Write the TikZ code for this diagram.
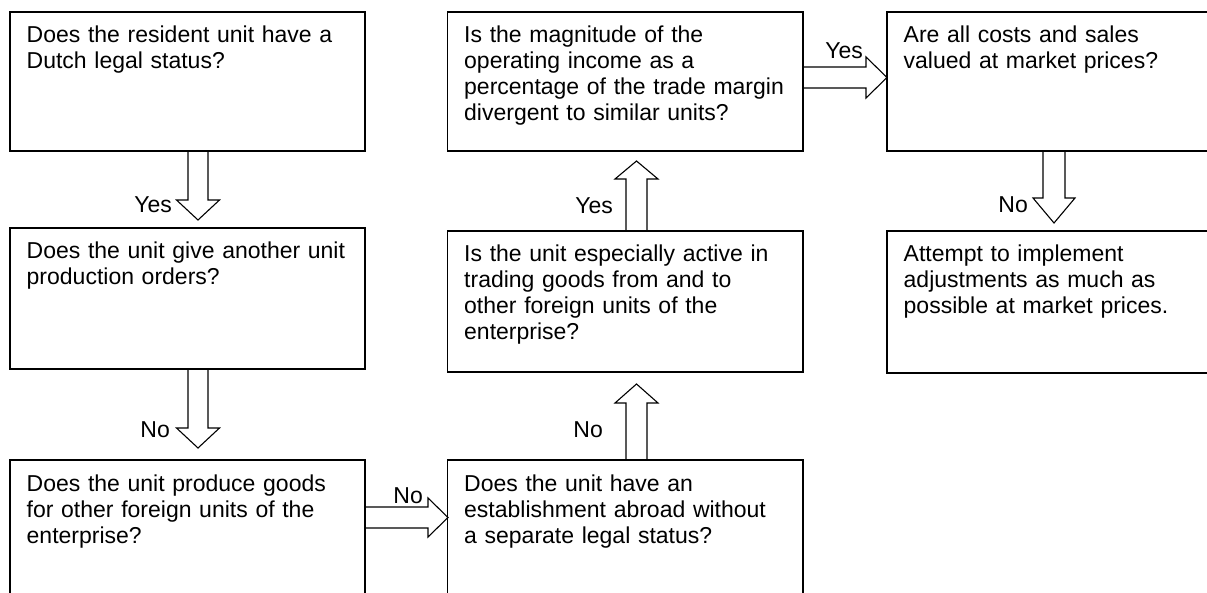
\documentclass[tikz,border=0pt]{standalone}
\usepackage{fontspec}
\setmainfont{Liberation Sans}
\usetikzlibrary{calc}
\begin{document}
\begin{tikzpicture}[x=1pt,y=-1pt,
  box/.style={draw, line width=1.1pt, rectangle, anchor=north west, inner sep=0pt, outer sep=0pt},
  txt/.style={anchor=base west, align=left, text width=380pt, inner sep=0pt, font=\fontsize{23}{26}\selectfont},
  blk/.style={draw, line width=1.1pt, line join=miter},
  lbl/.style={anchor=base east, inner sep=0pt, font=\fontsize{23}{26}\selectfont}]
\useasboundingbox (0,0) rectangle (1207,593);
\clip (0,0) rectangle (1207,593);
% boxes
\node[box, minimum width=355pt, minimum height=139pt] (b1) at (10,12) {};
\node[box, minimum width=355pt, minimum height=141pt] (b2) at (10,228) {};
\node[box, minimum width=355pt, minimum height=200pt] (b3) at (10,460) {};
\node[box, minimum width=355.5pt, minimum height=200pt] (b4) at (447.5,460) {};
\node[box, minimum width=355.5pt, minimum height=141pt] (b5) at (447.5,231) {};
\node[box, minimum width=355.5pt, minimum height=139pt] (b6) at (447.5,12) {};
\node[box, minimum width=400pt, minimum height=139pt] (b7) at (887,12) {};
\node[box, minimum width=400pt, minimum height=142pt] (b8) at (887,231) {};
% texts
\node[txt] (t1) at ($(b1.north west)+(16.5,31)$) {Does the resident unit have a\\Dutch legal status?};
\node[txt] (t2) at ($(b2.north west)+(16.5,31)$) {Does the unit give another unit\\production orders?};
\node[txt] (t3) at ($(b3.north west)+(16.5,31)$) {Does the unit produce goods\\for other foreign units of the\\enterprise?};
\node[txt] (t4) at ($(b4.north west)+(16.5,31)$) {Does the unit have an\\establishment abroad without\\a separate legal status?};
\node[txt] (t5) at ($(b5.north west)+(16.5,31)$) {Is the unit especially active in\\trading goods from and to\\other foreign units of the\\enterprise?};
\node[txt] (t6) at ($(b6.north west)+(16.5,31)$) {Is the magnitude of the\\operating income as a\\percentage of the trade margin\\divergent to similar units?};
\node[txt] (t7) at ($(b7.north west)+(16.5,31)$) {Are all costs and sales\\valued at market prices?};
\node[txt] (t8) at ($(b8.north west)+(16.5,31)$) {Attempt to implement\\adjustments as much as\\possible at market prices.};
% block arrows
\draw[blk] ($(b1.south west)+(178,0)$) -- ++(0,49) -- ++(-11.5,0) -- ++(21.5,20) -- ++(21.5,-20) -- ++(-11.5,0) -- ++(0,-49);
\draw[blk] ($(b2.south west)+(178,0)$) -- ++(0,59) -- ++(-11.5,0) -- ++(21.5,20) -- ++(21.5,-20) -- ++(-11.5,0) -- ++(0,-59);
\draw[blk] ($(b3.north east)+(0,47)$) -- ++(63,0) -- ++(0,-9) -- ++(20,19.5) -- ++(-20,19.5) -- ++(0,-9) -- ++(-63,0);
\draw[blk] ($(b4.north west)+(178.5,0)$) -- ++(0,-57) -- ++(-11,0) -- ++(21.5,-19) -- ++(21.5,19) -- ++(-11,0) -- ++(0,57);
\draw[blk] ($(b5.north west)+(178.5,0)$) -- ++(0,-52) -- ++(-11,0) -- ++(21.5,-18) -- ++(21.5,18) -- ++(-11,0) -- ++(0,52);
\draw[blk] ($(b6.north east)+(0,55)$) -- ++(63,0) -- ++(0,-10) -- ++(21,20.5) -- ++(-21,20.5) -- ++(0,-10) -- ++(-63,0);
\draw[blk] ($(b7.south west)+(156,0)$) -- ++(0,47) -- ++(-10,0) -- ++(21,25) -- ++(21,-25) -- ++(-10,0) -- ++(0,-47);
% labels
\node[lbl] (l1) at (172,213) {Yes};
\node[lbl] (l2) at (170,437) {No};
\node[lbl] (l3) at (423,503) {No};
\node[lbl] (l4) at (603,437) {No};
\node[lbl] (l5) at (613,214) {Yes};
\node[lbl] (l6) at (863,59) {Yes};
\node[lbl] (l7) at (1028,213) {No};
\end{tikzpicture}
\end{document}
